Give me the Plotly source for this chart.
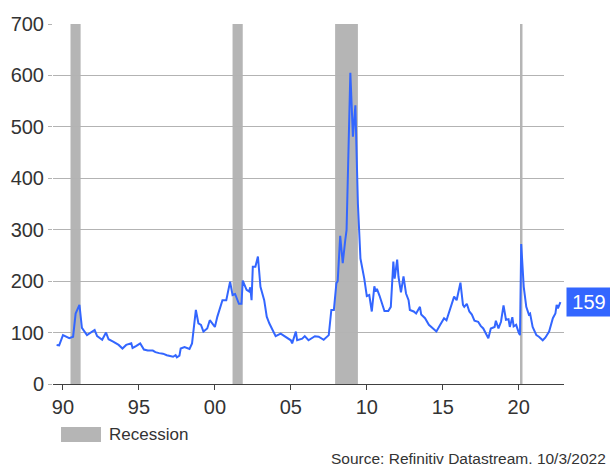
import plotly.graph_objects as go

# Monthly spread readings (basis points)
dates = [
    "1989-08", "1989-10", "1990-01", "1990-03", "1990-06", "1990-09", "1990-11",
    "1991-02", "1991-04", "1991-08", "1992-02", "1992-04", "1992-08", "1992-11",
    "1993-01", "1993-05", "1993-09", "1993-12", "1994-03", "1994-07", "1994-08",
    "1994-11", "1995-02", "1995-05", "1995-08", "1995-12", "1996-02", "1996-05",
    "1996-08", "1996-11", "1997-02", "1997-04", "1997-06", "1997-07", "1997-09",
    "1997-10", "1998-01", "1998-03", "1998-05", "1998-07", "1998-09", "1998-10",
    "1998-12", "1999-02", "1999-04", "1999-07", "1999-09", "1999-11", "2000-01",
    "2000-03", "2000-07", "2000-10", "2001-01", "2001-02", "2001-03", "2001-05",
    "2001-07", "2001-08", "2001-10", "2001-11", "2002-02", "2002-04", "2002-05",
    "2002-06", "2002-07", "2002-09", "2002-11", "2003-01", "2003-04", "2003-06",
    "2003-08", "2003-10", "2004-01", "2004-05", "2004-09", "2005-01", "2005-02",
    "2005-05", "2005-06", "2005-10", "2005-12", "2006-03", "2006-08", "2006-11",
    "2007-03", "2007-06", "2007-07", "2007-09", "2007-11", "2008-01", "2008-02",
    "2008-04", "2008-06", "2008-08", "2008-09", "2008-12", "2009-02", "2009-04",
    "2009-06", "2009-08", "2009-11", "2010-01", "2010-03", "2010-05", "2010-07",
    "2010-08", "2010-09", "2010-11", "2011-03", "2011-06", "2011-08", "2011-10",
    "2011-11", "2012-01", "2012-02", "2012-04", "2012-06", "2012-08", "2012-10",
    "2012-11", "2013-02", "2013-04", "2013-07", "2013-08", "2013-11", "2014-02",
    "2014-06", "2014-08", "2014-11", "2015-02", "2015-04", "2015-05", "2015-08",
    "2015-10", "2015-12", "2016-02", "2016-03", "2016-05", "2016-06", "2016-08",
    "2016-10", "2016-12", "2017-02", "2017-05", "2017-07", "2017-09", "2017-11",
    "2018-01", "2018-03", "2018-06", "2018-07", "2018-09", "2018-11", "2019-01",
    "2019-03", "2019-05", "2019-06", "2019-08", "2019-09", "2019-11", "2020-01",
    "2020-02", "2020-03", "2020-05", "2020-07", "2020-09", "2020-10", "2020-12",
    "2021-03", "2021-05", "2021-08", "2021-10", "2022-01", "2022-03", "2022-04",
    "2022-06", "2022-07", "2022-08", "2022-09-30",
]
spread = [
    76, 75, 95, 92, 89, 92, 137,
    154, 109, 95, 105, 93, 86, 100,
    87, 82, 76, 69, 76, 79, 70,
    74, 79, 67, 65, 65, 62, 60,
    59, 56, 55, 53, 56, 52, 55,
    69, 72, 70, 68, 79, 122, 144,
    118, 115, 102, 108, 124, 118, 111,
    131, 163, 163, 199, 185, 173, 175,
    160, 156, 156, 201, 183, 180, 188,
    163, 228, 228, 248, 189, 163, 131,
    118, 108, 93, 98, 92, 85, 79,
    102, 85, 88, 93, 85, 93, 92,
    86, 93, 95, 144, 144, 196, 200,
    288, 235, 280, 299, 605, 481, 542,
    350, 244, 205, 171, 173, 141, 190,
    180, 185, 172, 142, 142, 150, 238,
    205, 242, 209, 178, 209, 176, 163,
    144, 141, 137, 150, 135, 128, 115,
    105, 102, 115, 128, 124, 131, 154,
    170, 163, 183, 197, 154, 150, 156,
    141, 135, 123, 121, 113, 108, 98,
    89, 108, 111, 123, 108, 121, 153,
    125, 126, 111, 130, 112, 115, 100,
    95, 272, 189, 150, 135, 137, 111,
    95, 92, 85, 90, 102, 118, 128,
    137, 154, 147, 159,
]

# NBER recession periods
rec_start = ["1990-07-01", "2001-03-01", "2007-12-01", "2020-02-01"]
rec_end = ["1991-03-01", "2001-11-01", "2009-06-01", "2020-04-01"]

y_top = 700
line_blue = "#3366ff"
rec_grey = "#b5b5b5"
text_col = "#333333"
font_family = "Liberation Sans, Arial, sans-serif"

fig = go.Figure()

fig.add_trace(go.Scatter(
    x=dates, y=spread, mode="lines",
    line=dict(color=line_blue, width=2),
    showlegend=False, hoverinfo="skip",
))

for s, e in zip(rec_start, rec_end):
    fig.add_shape(type="rect", xref="x", yref="y", x0=s, x1=e, y0=0, y1=y_top,
                  fillcolor=rec_grey, line=dict(width=0), layer="below")

# Legend swatch and label
fig.add_shape(type="rect", xref="paper", yref="paper",
              x0=0.0157, x1=0.0939, y0=-0.1611, y1=-0.1194,
              fillcolor=rec_grey, line=dict(width=0))
fig.add_annotation(xref="paper", yref="paper", x=0.1057, y=-0.1403,
                   text="Recession", showarrow=False, xanchor="left", yanchor="middle",
                   font=dict(size=17, color=text_col, family=font_family))

# Source note
fig.add_annotation(xref="paper", yref="paper", x=1.0861, y=-0.2083,
                   text="Source: Refinitiv Datastream. 10/3/2022", showarrow=False,
                   xanchor="right", yanchor="middle",
                   font=dict(size=15.5, color=text_col, family=font_family))

# Latest value tag
fig.add_annotation(xref="paper", yref="y", x=1, y=spread[-1], xshift=2,
                   text=str(spread[-1]), showarrow=False, xanchor="left", yanchor="middle",
                   bgcolor=line_blue, width=40, height=24, borderpad=2, align="center",
                   font=dict(size=20, color="white", family=font_family))

fig.update_layout(
    width=610, height=466,
    margin=dict(l=53, r=46, t=24, b=82),
    paper_bgcolor="white", plot_bgcolor="white",
    font=dict(family=font_family, color=text_col),
    showlegend=False,
)
fig.update_xaxes(
    type="date", range=["1989-05-06", "2022-12-25"],
    tick0="1990-01-01", dtick="M60", tickformat="%y",
    showgrid=False, zeroline=False,
    showline=True, linecolor="#404040", linewidth=1,
    ticks="outside", ticklen=5, tickcolor="#404040",
    tickfont=dict(size=20, color=text_col),
)
fig.update_yaxes(
    range=[0, y_top], dtick=100,
    showgrid=True, gridcolor="#b3b3b3", gridwidth=1, zeroline=False,
    ticks="outside", ticklen=4, tickcolor="#b3b3b3",
    tickfont=dict(size=20, color=text_col),
)

fig.write_html("out.html")
